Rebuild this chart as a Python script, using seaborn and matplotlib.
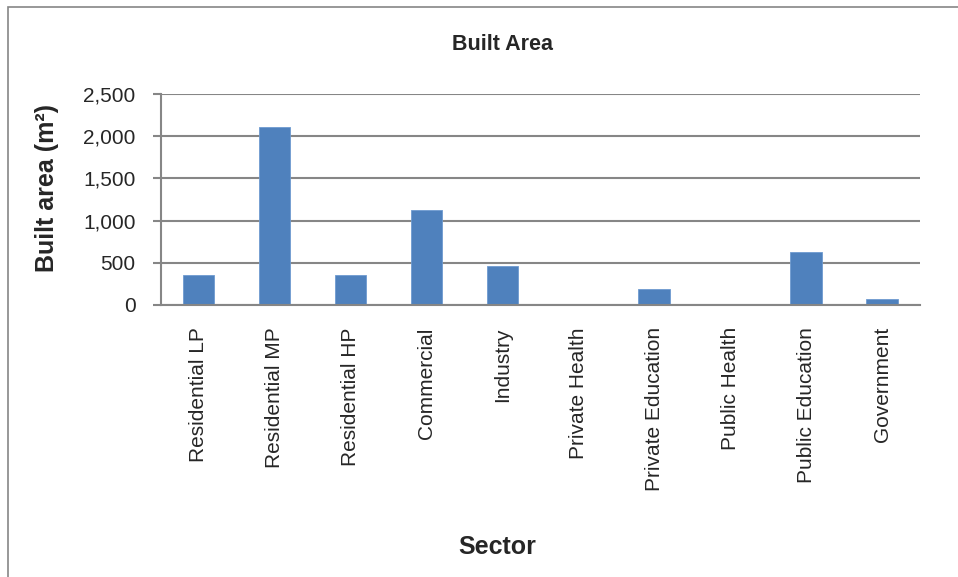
import matplotlib
matplotlib.use("Agg")
import matplotlib.pyplot as plt
import seaborn as sns
import pandas as pd
from matplotlib.patches import Rectangle
from matplotlib.ticker import FuncFormatter, MultipleLocator

sectors = ["Residential LP", "Residential MP", "Residential HP", "Commercial",
           "Industry", "Private Health", "Private Education", "Public Health",
           "Public Education", "Government"]
built_area = [360, 2110, 360, 1120, 457, 0, 190, 0, 625, 72]

df = pd.DataFrame({"Sector": sectors, "Built area": built_area})

sns.set_theme(style="white")
plt.rcParams["font.family"] = ["Liberation Sans", "DejaVu Sans"]

grey = "#868686"
W, H = 958, 577
fig = plt.figure(figsize=(W / 100, H / 100), dpi=100)
ax = fig.add_axes([160.7 / W, 1 - 305 / H, (920 - 160.7) / W, (305 - 94) / H])

sns.barplot(data=df, x="Sector", y="Built area", color="#4F81BD",
            saturation=1, width=0.416, ax=ax, edgecolor="#6E9BD0", linewidth=0.6)

ax.set_ylim(0, 2500)
ax.set_xlim(-0.5, len(sectors) - 0.5)
ax.yaxis.set_major_locator(MultipleLocator(500))
ax.yaxis.set_major_formatter(FuncFormatter(lambda v, p: f"{int(v):,}"))
ax.grid(axis="y", color=grey, linewidth=1.5)
ax.set_axisbelow(True)

for side in ["top", "right"]:
    ax.spines[side].set_visible(False)
for side in ["left", "bottom"]:
    ax.spines[side].set_color(grey)
    ax.spines[side].set_linewidth(1.5)

# ticks on category boundaries
ax.set_xticks([i - 0.5 for i in range(len(sectors) + 1)], minor=True)
ax.tick_params(axis="x", which="minor", length=6, width=1.5, color=grey, direction="out")
ax.tick_params(axis="x", which="major", length=0, labelsize=15, pad=16)
ax.tick_params(axis="y", length=6, width=1.5, color=grey, direction="out",
               labelsize=15, pad=12, left=True)
ax.set_xticks(range(len(sectors)))
ax.set_xticklabels(sectors, rotation=90, va="top", ha="center")

ax.set_xlabel("")
ax.set_ylabel("")

fig.text(47 / W, 1 - 188 / H, "Built area (m²)", rotation=90, ha="center",
         va="center", fontsize=18, fontweight="bold")
fig.text(503 / W, 1 - 45 / H, "Built Area", ha="center", va="center",
         fontsize=15.5, fontweight="bold")
fig.text(497 / W, 1 - 547 / H, "Sector", ha="center", va="center",
         fontsize=18, fontweight="bold")

# chart frame
fig.patches.append(Rectangle((8 / W, -0.5), 2, 1 - 7 / H + 0.5,
                             transform=fig.transFigure, fill=False,
                             edgecolor=grey, linewidth=1.2))

fig.savefig("out.png", dpi=100, facecolor="white")
